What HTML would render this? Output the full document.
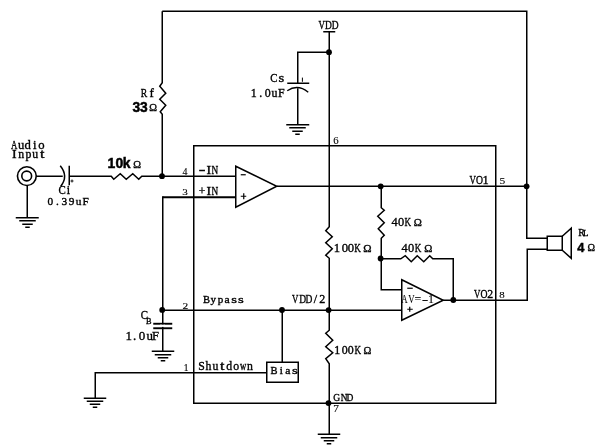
<!DOCTYPE html>
<html><head><meta charset="utf-8"><style>
html,body{margin:0;padding:0;background:#fff;width:600px;height:448px;overflow:hidden}
svg{display:block;will-change:transform}
</style></head><body>
<svg width="600" height="448" viewBox="0 0 600 448">
<rect width="600" height="448" fill="#fff"/>
<path d="M162.25,11.25H526.75V238.25H547.25" fill="none" stroke="#000" stroke-width="1.5"/>
<path d="M162.25,11.25V82.75L159.75,86.25L165.75,93.25L159.75,99.25L165.75,105.25L160.25,111.75L162.25,114.25V176.25" fill="none" stroke="#000" stroke-width="1.5"/>
<circle cx="26.85" cy="176.1" r="9.4" fill="none" stroke="#000" stroke-width="1.6"/>
<circle cx="26.7" cy="176.0" r="4.9" fill="none" stroke="#000" stroke-width="1.6"/>
<path d="M36.25,176.25H62.75" fill="none" stroke="#000" stroke-width="1.5"/>
<path d="M27.25,185.75V217.75" fill="none" stroke="#000" stroke-width="1.5"/>
<path d="M15.75,217.75H38.75" fill="none" stroke="#000" stroke-width="1.5"/>
<path d="M19.25,220.75H35.75" fill="none" stroke="#000" stroke-width="1.5"/>
<path d="M22.25,224.25H32.75" fill="none" stroke="#000" stroke-width="1.5"/>
<path d="M25.25,227.25H29.75" fill="none" stroke="#000" stroke-width="1.5"/>
<path d="M60.25,165.75Q68.75,176.25 60.75,186.25" fill="none" stroke="#000" stroke-width="1.5"/>
<path d="M69.25,165.75V185.25" fill="none" stroke="#000" stroke-width="1.5"/>
<path d="M69.25,176.25H111.25L113.75,179.25L120.25,173.75L126.25,179.25L132.75,173.75L138.75,179.25L141.75,176.25H235.75" fill="none" stroke="#000" stroke-width="1.5"/>
<circle cx="162" cy="176.2" r="2.9" fill="#000"/>
<path d="M162.75,197.25H235.75" fill="none" stroke="#000" stroke-width="2.2"/>
<path d="M162.75,196.25V351.25" fill="none" stroke="#000" stroke-width="1.5"/>
<circle cx="162.2" cy="309.9" r="2.9" fill="#000"/>
<path d="M162.25,310.25H401.75" fill="none" stroke="#000" stroke-width="1.5"/>
<path d="M153.25,323.75H172.25" fill="none" stroke="#000" stroke-width="1.9"/>
<path d="M153.25,328.25H172.25" fill="none" stroke="#000" stroke-width="1.9"/>
<rect x="160" y="324.7" width="5" height="2.2" fill="#fff"/>
<path d="M151.75,351.25H174.25" fill="none" stroke="#000" stroke-width="1.5"/>
<path d="M154.75,354.75H171.25" fill="none" stroke="#000" stroke-width="1.5"/>
<path d="M157.75,357.75H168.25" fill="none" stroke="#000" stroke-width="1.5"/>
<path d="M160.75,360.75H165.25" fill="none" stroke="#000" stroke-width="1.5"/>
<path d="M95.25,398.25V372.75H266.75" fill="none" stroke="#000" stroke-width="1.5"/>
<path d="M83.75,398.25H106.25" fill="none" stroke="#000" stroke-width="1.5"/>
<path d="M86.75,401.25H103.25" fill="none" stroke="#000" stroke-width="1.5"/>
<path d="M89.75,404.25H100.25" fill="none" stroke="#000" stroke-width="1.5"/>
<path d="M92.75,407.25H97.25" fill="none" stroke="#000" stroke-width="1.5"/>
<path d="M266.75,362.25H298.25V382.25H266.75Z" fill="none" stroke="#000" stroke-width="1.5"/>
<path d="M282.25,310.25V362.25" fill="none" stroke="#000" stroke-width="1.5"/>
<circle cx="282" cy="310" r="2.9" fill="#000"/>
<path d="M323.25,31.75H335.25" fill="none" stroke="#000" stroke-width="1.5"/>
<path d="M329.25,31.75V226.75L325.75,230.75L332.25,236.75L325.75,242.75L332.25,248.75L325.75,255.25L329.25,258.25V330.25L325.75,333.25L332.75,340.25L325.75,346.75L332.75,352.75L325.75,358.75L329.25,363.75V434.25" fill="none" stroke="#000" stroke-width="1.5"/>
<circle cx="329" cy="52.2" r="2.9" fill="#000"/>
<circle cx="328.6" cy="310.1" r="2.9" fill="#000"/>
<circle cx="328.5" cy="403.1" r="2.9" fill="#000"/>
<path d="M317.75,434.25H340.25" fill="none" stroke="#000" stroke-width="1.5"/>
<path d="M320.75,437.75H337.25" fill="none" stroke="#000" stroke-width="1.5"/>
<path d="M323.75,440.75H334.25" fill="none" stroke="#000" stroke-width="1.5"/>
<path d="M326.75,443.75H331.25" fill="none" stroke="#000" stroke-width="1.5"/>
<path d="M329.25,52.25H297.75V83.25" fill="none" stroke="#000" stroke-width="1.5"/>
<path d="M287.25,83.25H309.25" fill="none" stroke="#000" stroke-width="1.5"/>
<path d="M287.25,90.75Q297.75,83.75 308.25,92.25" fill="none" stroke="#000" stroke-width="1.4"/>
<path d="M297.75,88.25V124.75" fill="none" stroke="#000" stroke-width="1.5"/>
<path d="M286.25,124.75H309.25" fill="none" stroke="#000" stroke-width="1.5"/>
<path d="M289.25,127.75H305.75" fill="none" stroke="#000" stroke-width="1.5"/>
<path d="M292.25,131.25H302.75" fill="none" stroke="#000" stroke-width="1.5"/>
<path d="M295.25,134.25H299.75" fill="none" stroke="#000" stroke-width="1.5"/>
<path d="M193.75,145.75H495.75V403.25H193.75Z" fill="none" stroke="#000" stroke-width="1.5"/>
<path d="M235.75,166.25L276.75,186.25L235.75,207.25Z" fill="none" stroke="#000" stroke-width="1.5"/>
<path d="M276.75,186.25H526.75" fill="none" stroke="#000" stroke-width="1.5"/>
<circle cx="380.7" cy="186.3" r="2.9" fill="#000"/>
<circle cx="526.6" cy="186.3" r="2.9" fill="#000"/>
<path d="M381.25,186.25V207.75L384.25,210.25L377.75,216.25L384.25,222.75L378.25,228.75L384.25,235.25L381.25,238.25V289.75H401.75" fill="none" stroke="#000" stroke-width="1.5"/>
<circle cx="380.6" cy="258.5" r="2.9" fill="#000"/>
<path d="M381.25,258.75H400.75L405.25,255.75L411.25,261.75L417.25,255.75L423.75,261.75L429.75,255.75L432.75,258.75H453.25V300.25" fill="none" stroke="#000" stroke-width="1.5"/>
<circle cx="453.3" cy="300" r="2.9" fill="#000"/>
<path d="M401.75,279.75L443.25,300.25L401.75,320.25Z" fill="none" stroke="#000" stroke-width="1.5"/>
<path d="M443.25,300.25H527.25V249.25H547.25" fill="none" stroke="#000" stroke-width="1.5"/>
<path d="M547.25,236.25H562.25V250.25H547.25Z" fill="none" stroke="#000" stroke-width="1.5"/>
<path d="M562.25,236.25L571.25,228.25V258.25L562.25,250.25" fill="none" stroke="#000" stroke-width="1.5"/>
<path d="M240.75,174.75H245.75" fill="none" stroke="#000" stroke-width="1.2"/>
<path d="M240.75,196.25H246.25M243.75,193.25V199.25" fill="none" stroke="#000" stroke-width="1.2"/>
<path d="M407.25,288.25H412.75" fill="none" stroke="#000" stroke-width="1.2"/>
<path d="M407.25,309.25H412.75M409.75,306.75V311.75" fill="none" stroke="#000" stroke-width="1.2"/>
<path d="M302.4,77.6V81.8" stroke="#000" stroke-width="1"/>
<path d="M72,179.5V182.5M70.5,181H73.5" stroke="#000" stroke-width="0.9"/>
<text transform="translate(321.70,29.40) scale(0.715,1)" x="-4.47" y="0" font-family="Liberation Serif" font-size="12.39" font-weight="normal" fill="#000" stroke="#000" stroke-width="0.35">V</text>
<text transform="translate(328.40,29.40) scale(0.766,1)" x="-4.40" y="0" font-family="Liberation Serif" font-size="12.39" font-weight="normal" fill="#000" stroke="#000" stroke-width="0.35">D</text>
<text transform="translate(335.00,29.40) scale(0.766,1)" x="-4.40" y="0" font-family="Liberation Serif" font-size="12.39" font-weight="normal" fill="#000" stroke="#000" stroke-width="0.35">D</text>
<text transform="translate(144.00,96.80) scale(0.741,1)" x="-4.56" y="0" font-family="Liberation Serif" font-size="13.14" font-weight="normal" fill="#000" stroke="#000" stroke-width="0.35">R</text>
<text transform="translate(151.80,96.80) scale(1.000,1)" x="-2.39" y="0" font-family="Liberation Serif" font-size="13.14" font-weight="normal" fill="#000" stroke="#000" stroke-width="0.35">f</text>
<text transform="translate(273.70,81.90) scale(0.910,1)" x="-3.90" y="0" font-family="Liberation Serif" font-size="11.93" font-weight="normal" fill="#000" stroke="#000" stroke-width="0.35">C</text>
<text transform="translate(281.50,81.90) scale(1.235,1)" x="-2.35" y="0" font-family="Liberation Serif" font-size="11.93" font-weight="normal" fill="#000" stroke="#000" stroke-width="0.35">s</text>
<text transform="translate(254.00,96.90) scale(1.000,1)" x="-3.15" y="0" font-family="Liberation Serif" font-size="11.93" font-weight="normal" fill="#000" stroke="#000" stroke-width="0.35">1</text>
<text transform="translate(260.80,96.90) scale(1.000,1)" x="-1.49" y="0" font-family="Liberation Serif" font-size="11.93" font-weight="normal" fill="#000" stroke="#000" stroke-width="0.35">.</text>
<text transform="translate(267.60,96.90) scale(1.000,1)" x="-2.98" y="0" font-family="Liberation Serif" font-size="11.93" font-weight="normal" fill="#000" stroke="#000" stroke-width="0.35">0</text>
<text transform="translate(274.40,96.90) scale(1.000,1)" x="-2.96" y="0" font-family="Liberation Serif" font-size="11.93" font-weight="normal" fill="#000" stroke="#000" stroke-width="0.35">u</text>
<text transform="translate(281.20,96.90) scale(1.000,1)" x="-3.27" y="0" font-family="Liberation Serif" font-size="11.93" font-weight="normal" fill="#000" stroke="#000" stroke-width="0.35">F</text>
<text transform="translate(14.20,148.50) scale(0.693,1)" x="-4.60" y="0" font-family="Liberation Serif" font-size="12.69" font-weight="normal" fill="#000" stroke="#000" stroke-width="0.35">A</text>
<text transform="translate(21.03,148.50) scale(1.000,1)" x="-3.15" y="0" font-family="Liberation Serif" font-size="12.69" font-weight="normal" fill="#000" stroke="#000" stroke-width="0.35">u</text>
<text transform="translate(27.86,148.50) scale(1.000,1)" x="-3.32" y="0" font-family="Liberation Serif" font-size="12.69" font-weight="normal" fill="#000" stroke="#000" stroke-width="0.35">d</text>
<text transform="translate(34.69,148.50) scale(1.000,1)" x="-1.78" y="0" font-family="Liberation Serif" font-size="12.69" font-weight="normal" fill="#000" stroke="#000" stroke-width="0.35">i</text>
<text transform="translate(41.52,148.50) scale(1.000,1)" x="-3.17" y="0" font-family="Liberation Serif" font-size="12.69" font-weight="normal" fill="#000" stroke="#000" stroke-width="0.35">o</text>
<text transform="translate(14.20,158.40) scale(1.167,1)" x="-1.97" y="0" font-family="Liberation Serif" font-size="11.78" font-weight="normal" fill="#000" stroke="#000" stroke-width="0.35">I</text>
<text transform="translate(21.20,158.40) scale(1.000,1)" x="-2.99" y="0" font-family="Liberation Serif" font-size="11.78" font-weight="normal" fill="#000" stroke="#000" stroke-width="0.35">n</text>
<text transform="translate(28.20,158.40) scale(1.000,1)" x="-2.81" y="0" font-family="Liberation Serif" font-size="11.78" font-weight="normal" fill="#000" stroke="#000" stroke-width="0.35">p</text>
<text transform="translate(35.20,158.40) scale(1.000,1)" x="-2.92" y="0" font-family="Liberation Serif" font-size="11.78" font-weight="normal" fill="#000" stroke="#000" stroke-width="0.35">u</text>
<text transform="translate(42.20,158.40) scale(1.359,1)" x="-1.66" y="0" font-family="Liberation Serif" font-size="11.78" font-weight="normal" fill="#000" stroke="#000" stroke-width="0.35">t</text>
<text transform="translate(62.10,194.40) scale(0.910,1)" x="-3.90" y="0" font-family="Liberation Serif" font-size="11.93" font-weight="normal" fill="#000" stroke="#000" stroke-width="0.35">C</text>
<text transform="translate(68.50,194.40) scale(1.000,1)" x="-1.67" y="0" font-family="Liberation Serif" font-size="11.93" font-weight="normal" fill="#000" stroke="#000" stroke-width="0.35">i</text>
<text transform="translate(50.25,204.50) scale(1.000,1)" x="-2.83" y="0" font-family="Liberation Serif" font-size="11.33" font-weight="normal" fill="#000" stroke="#000" stroke-width="0.35">0</text>
<text transform="translate(57.30,204.50) scale(1.000,1)" x="-1.42" y="0" font-family="Liberation Serif" font-size="11.33" font-weight="normal" fill="#000" stroke="#000" stroke-width="0.35">.</text>
<text transform="translate(64.35,204.50) scale(1.000,1)" x="-2.88" y="0" font-family="Liberation Serif" font-size="11.33" font-weight="normal" fill="#000" stroke="#000" stroke-width="0.35">3</text>
<text transform="translate(71.40,204.50) scale(1.000,1)" x="-2.78" y="0" font-family="Liberation Serif" font-size="11.33" font-weight="normal" fill="#000" stroke="#000" stroke-width="0.35">9</text>
<text transform="translate(78.45,204.50) scale(1.000,1)" x="-2.81" y="0" font-family="Liberation Serif" font-size="11.33" font-weight="normal" fill="#000" stroke="#000" stroke-width="0.35">u</text>
<text transform="translate(85.50,204.50) scale(1.000,1)" x="-3.11" y="0" font-family="Liberation Serif" font-size="11.33" font-weight="normal" fill="#000" stroke="#000" stroke-width="0.35">F</text>
<text transform="translate(202.00,173.60) scale(1.744,1)" x="-1.92" y="0" font-family="Liberation Serif" font-size="11.48" font-weight="normal" fill="#000" stroke="#000" stroke-width="0.35">-</text>
<text transform="translate(208.80,173.60) scale(1.198,1)" x="-1.92" y="0" font-family="Liberation Serif" font-size="11.48" font-weight="normal" fill="#000" stroke="#000" stroke-width="0.35">I</text>
<text transform="translate(214.90,173.60) scale(0.806,1)" x="-4.18" y="0" font-family="Liberation Serif" font-size="11.48" font-weight="normal" fill="#000" stroke="#000" stroke-width="0.35">N</text>
<text transform="translate(202.00,194.50) scale(1.000,1)" x="-3.24" y="0" font-family="Liberation Serif" font-size="11.48" font-weight="normal" fill="#000" stroke="#000" stroke-width="0.35">+</text>
<text transform="translate(208.80,194.50) scale(1.198,1)" x="-1.92" y="0" font-family="Liberation Serif" font-size="11.48" font-weight="normal" fill="#000" stroke="#000" stroke-width="0.35">I</text>
<text transform="translate(214.90,194.50) scale(0.806,1)" x="-4.18" y="0" font-family="Liberation Serif" font-size="11.48" font-weight="normal" fill="#000" stroke="#000" stroke-width="0.35">N</text>
<text transform="translate(337.10,251.90) scale(1.000,1)" x="-3.35" y="0" font-family="Liberation Serif" font-size="12.69" font-weight="normal" fill="#000" stroke="#000" stroke-width="0.35">1</text>
<text transform="translate(344.80,251.90) scale(1.000,1)" x="-3.17" y="0" font-family="Liberation Serif" font-size="12.69" font-weight="normal" fill="#000" stroke="#000" stroke-width="0.35">0</text>
<text transform="translate(350.90,251.90) scale(1.000,1)" x="-3.17" y="0" font-family="Liberation Serif" font-size="12.69" font-weight="normal" fill="#000" stroke="#000" stroke-width="0.35">0</text>
<text transform="translate(357.60,251.90) scale(0.715,1)" x="-4.70" y="0" font-family="Liberation Serif" font-size="12.69" font-weight="normal" fill="#000" stroke="#000" stroke-width="0.35">K</text>
<text transform="translate(367.50,251.90) scale(1.000,1)" x="-4.15" y="0" font-family="Liberation Serif" font-size="11.17" font-weight="normal" fill="#000" stroke="#000" stroke-width="0.35">Ω</text>
<text transform="translate(394.50,225.90) scale(1.000,1)" x="-3.12" y="0" font-family="Liberation Serif" font-size="12.39" font-weight="normal" fill="#000" stroke="#000" stroke-width="0.35">4</text>
<text transform="translate(401.10,225.90) scale(1.000,1)" x="-3.10" y="0" font-family="Liberation Serif" font-size="12.39" font-weight="normal" fill="#000" stroke="#000" stroke-width="0.35">0</text>
<text transform="translate(407.90,225.90) scale(0.733,1)" x="-4.59" y="0" font-family="Liberation Serif" font-size="12.39" font-weight="normal" fill="#000" stroke="#000" stroke-width="0.35">K</text>
<text transform="translate(417.80,225.90) scale(1.000,1)" x="-4.05" y="0" font-family="Liberation Serif" font-size="10.90" font-weight="normal" fill="#000" stroke="#000" stroke-width="0.35">Ω</text>
<text transform="translate(404.60,251.60) scale(1.000,1)" x="-3.12" y="0" font-family="Liberation Serif" font-size="12.39" font-weight="normal" fill="#000" stroke="#000" stroke-width="0.35">4</text>
<text transform="translate(411.20,251.60) scale(1.000,1)" x="-3.10" y="0" font-family="Liberation Serif" font-size="12.39" font-weight="normal" fill="#000" stroke="#000" stroke-width="0.35">0</text>
<text transform="translate(418.00,251.60) scale(0.733,1)" x="-4.59" y="0" font-family="Liberation Serif" font-size="12.39" font-weight="normal" fill="#000" stroke="#000" stroke-width="0.35">K</text>
<text transform="translate(428.30,251.60) scale(1.000,1)" x="-4.05" y="0" font-family="Liberation Serif" font-size="10.90" font-weight="normal" fill="#000" stroke="#000" stroke-width="0.35">Ω</text>
<text transform="translate(472.70,184.40) scale(0.715,1)" x="-4.47" y="0" font-family="Liberation Serif" font-size="12.39" font-weight="normal" fill="#000" stroke="#000" stroke-width="0.35">V</text>
<text transform="translate(479.40,184.40) scale(0.782,1)" x="-4.47" y="0" font-family="Liberation Serif" font-size="12.39" font-weight="normal" fill="#000" stroke="#000" stroke-width="0.35">O</text>
<text transform="translate(485.80,184.40) scale(1.000,1)" x="-3.27" y="0" font-family="Liberation Serif" font-size="12.39" font-weight="normal" fill="#000" stroke="#000" stroke-width="0.35">1</text>
<text transform="translate(477.30,297.70) scale(0.752,1)" x="-4.25" y="0" font-family="Liberation Serif" font-size="11.78" font-weight="normal" fill="#000" stroke="#000" stroke-width="0.35">V</text>
<text transform="translate(484.00,297.70) scale(0.822,1)" x="-4.25" y="0" font-family="Liberation Serif" font-size="11.78" font-weight="normal" fill="#000" stroke="#000" stroke-width="0.35">O</text>
<text transform="translate(490.20,297.70) scale(1.000,1)" x="-2.88" y="0" font-family="Liberation Serif" font-size="11.78" font-weight="normal" fill="#000" stroke="#000" stroke-width="0.35">2</text>
<text transform="translate(404.50,302.70) scale(0.737,1)" x="-4.32" y="0" font-family="Liberation Serif" font-size="11.93" font-weight="normal" fill="#000" stroke="#000" stroke-width="0.1">A</text>
<text transform="translate(411.50,302.70) scale(0.743,1)" x="-4.31" y="0" font-family="Liberation Serif" font-size="11.93" font-weight="normal" fill="#000" stroke="#000" stroke-width="0.1">V</text>
<text transform="translate(417.80,302.70) scale(1.000,1)" x="-3.37" y="0" font-family="Liberation Serif" font-size="11.93" font-weight="normal" fill="#000" stroke="#000" stroke-width="0.1">=</text>
<text transform="translate(425.00,302.70) scale(1.677,1)" x="-1.99" y="0" font-family="Liberation Serif" font-size="11.93" font-weight="normal" fill="#000" stroke="#000" stroke-width="0.1">-</text>
<text transform="translate(431.20,302.70) scale(1.000,1)" x="-3.15" y="0" font-family="Liberation Serif" font-size="11.93" font-weight="normal" fill="#000" stroke="#000" stroke-width="0.1">1</text>
<text transform="translate(144.30,319.00) scale(0.866,1)" x="-4.09" y="0" font-family="Liberation Serif" font-size="12.54" font-weight="normal" fill="#000" stroke="#000" stroke-width="0.35">C</text>
<text transform="translate(148.70,324.10) scale(1.000,1)" x="-2.69" y="0" font-family="Liberation Serif" font-size="8.31" font-weight="normal" fill="#000" stroke="#000" stroke-width="0.35">B</text>
<text transform="translate(128.80,339.70) scale(1.000,1)" x="-3.43" y="0" font-family="Liberation Serif" font-size="12.99" font-weight="normal" fill="#000" stroke="#000" stroke-width="0.35">1</text>
<text transform="translate(134.60,339.70) scale(1.000,1)" x="-1.62" y="0" font-family="Liberation Serif" font-size="12.99" font-weight="normal" fill="#000" stroke="#000" stroke-width="0.35">.</text>
<text transform="translate(142.10,339.70) scale(1.000,1)" x="-3.25" y="0" font-family="Liberation Serif" font-size="12.99" font-weight="normal" fill="#000" stroke="#000" stroke-width="0.35">0</text>
<text transform="translate(149.60,339.70) scale(1.000,1)" x="-3.22" y="0" font-family="Liberation Serif" font-size="12.99" font-weight="normal" fill="#000" stroke="#000" stroke-width="0.35">u</text>
<text transform="translate(155.40,339.70) scale(0.972,1)" x="-3.56" y="0" font-family="Liberation Serif" font-size="12.99" font-weight="normal" fill="#000" stroke="#000" stroke-width="0.35">F</text>
<text transform="translate(206.50,302.50) scale(0.954,1)" x="-3.57" y="0" font-family="Liberation Serif" font-size="11.03" font-weight="normal" fill="#000" stroke="#000" stroke-width="0.35">B</text>
<text transform="translate(213.40,302.50) scale(1.000,1)" x="-2.80" y="0" font-family="Liberation Serif" font-size="11.03" font-weight="normal" fill="#000" stroke="#000" stroke-width="0.35">y</text>
<text transform="translate(220.30,302.50) scale(1.000,1)" x="-2.63" y="0" font-family="Liberation Serif" font-size="11.03" font-weight="normal" fill="#000" stroke="#000" stroke-width="0.35">p</text>
<text transform="translate(227.20,302.50) scale(1.056,1)" x="-2.57" y="0" font-family="Liberation Serif" font-size="11.03" font-weight="normal" fill="#000" stroke="#000" stroke-width="0.35">a</text>
<text transform="translate(234.10,302.50) scale(1.337,1)" x="-2.17" y="0" font-family="Liberation Serif" font-size="11.03" font-weight="normal" fill="#000" stroke="#000" stroke-width="0.35">s</text>
<text transform="translate(241.00,302.50) scale(1.337,1)" x="-2.17" y="0" font-family="Liberation Serif" font-size="11.03" font-weight="normal" fill="#000" stroke="#000" stroke-width="0.35">s</text>
<text transform="translate(295.30,302.95) scale(0.733,1)" x="-4.36" y="0" font-family="Liberation Serif" font-size="12.08" font-weight="normal" fill="#000" stroke="#000" stroke-width="0.35">V</text>
<text transform="translate(302.70,302.95) scale(0.785,1)" x="-4.30" y="0" font-family="Liberation Serif" font-size="12.08" font-weight="normal" fill="#000" stroke="#000" stroke-width="0.35">D</text>
<text transform="translate(308.80,302.95) scale(0.785,1)" x="-4.30" y="0" font-family="Liberation Serif" font-size="12.08" font-weight="normal" fill="#000" stroke="#000" stroke-width="0.35">D</text>
<text transform="translate(315.30,302.95) scale(1.000,1)" x="-1.68" y="0" font-family="Liberation Serif" font-size="12.08" font-weight="normal" fill="#000" stroke="#000" stroke-width="0.35">/</text>
<text transform="translate(322.20,302.95) scale(1.000,1)" x="-2.95" y="0" font-family="Liberation Serif" font-size="12.08" font-weight="normal" fill="#000" stroke="#000" stroke-width="0.35">2</text>
<text transform="translate(201.50,369.80) scale(1.000,1)" x="-3.31" y="0" font-family="Liberation Serif" font-size="11.78" font-weight="normal" fill="#000" stroke="#000" stroke-width="0.35">S</text>
<text transform="translate(208.43,369.80) scale(1.000,1)" x="-2.93" y="0" font-family="Liberation Serif" font-size="11.78" font-weight="normal" fill="#000" stroke="#000" stroke-width="0.35">h</text>
<text transform="translate(215.36,369.80) scale(1.000,1)" x="-2.92" y="0" font-family="Liberation Serif" font-size="11.78" font-weight="normal" fill="#000" stroke="#000" stroke-width="0.35">u</text>
<text transform="translate(222.29,369.80) scale(1.359,1)" x="-1.66" y="0" font-family="Liberation Serif" font-size="11.78" font-weight="normal" fill="#000" stroke="#000" stroke-width="0.35">t</text>
<text transform="translate(229.22,369.80) scale(1.000,1)" x="-3.09" y="0" font-family="Liberation Serif" font-size="11.78" font-weight="normal" fill="#000" stroke="#000" stroke-width="0.35">d</text>
<text transform="translate(236.15,369.80) scale(1.000,1)" x="-2.95" y="0" font-family="Liberation Serif" font-size="11.78" font-weight="normal" fill="#000" stroke="#000" stroke-width="0.35">o</text>
<text transform="translate(243.08,369.80) scale(0.734,1)" x="-4.23" y="0" font-family="Liberation Serif" font-size="11.78" font-weight="normal" fill="#000" stroke="#000" stroke-width="0.35">w</text>
<text transform="translate(250.01,369.80) scale(1.000,1)" x="-2.99" y="0" font-family="Liberation Serif" font-size="11.78" font-weight="normal" fill="#000" stroke="#000" stroke-width="0.35">n</text>
<text transform="translate(274.00,374.30) scale(0.954,1)" x="-3.57" y="0" font-family="Liberation Serif" font-size="11.03" font-weight="normal" fill="#000" stroke="#000" stroke-width="0.35">B</text>
<text transform="translate(281.20,374.30) scale(1.000,1)" x="-1.54" y="0" font-family="Liberation Serif" font-size="11.03" font-weight="normal" fill="#000" stroke="#000" stroke-width="0.35">i</text>
<text transform="translate(288.00,374.30) scale(1.056,1)" x="-2.57" y="0" font-family="Liberation Serif" font-size="11.03" font-weight="normal" fill="#000" stroke="#000" stroke-width="0.35">a</text>
<text transform="translate(294.80,374.30) scale(1.337,1)" x="-2.17" y="0" font-family="Liberation Serif" font-size="11.03" font-weight="normal" fill="#000" stroke="#000" stroke-width="0.35">s</text>
<text transform="translate(337.30,354.25) scale(1.000,1)" x="-3.15" y="0" font-family="Liberation Serif" font-size="11.93" font-weight="normal" fill="#000" stroke="#000" stroke-width="0.35">1</text>
<text transform="translate(344.80,354.25) scale(1.000,1)" x="-2.98" y="0" font-family="Liberation Serif" font-size="11.93" font-weight="normal" fill="#000" stroke="#000" stroke-width="0.35">0</text>
<text transform="translate(350.80,354.25) scale(1.000,1)" x="-2.98" y="0" font-family="Liberation Serif" font-size="11.93" font-weight="normal" fill="#000" stroke="#000" stroke-width="0.35">0</text>
<text transform="translate(357.80,354.25) scale(0.761,1)" x="-4.42" y="0" font-family="Liberation Serif" font-size="11.93" font-weight="normal" fill="#000" stroke="#000" stroke-width="0.35">K</text>
<text transform="translate(367.50,354.25) scale(1.000,1)" x="-3.90" y="0" font-family="Liberation Serif" font-size="10.50" font-weight="normal" fill="#000" stroke="#000" stroke-width="0.35">Ω</text>
<text transform="translate(336.70,400.60) scale(0.902,1)" x="-3.87" y="0" font-family="Liberation Serif" font-size="10.57" font-weight="normal" fill="#000" stroke="#000" stroke-width="0.35">G</text>
<text transform="translate(344.00,400.60) scale(0.875,1)" x="-3.85" y="0" font-family="Liberation Serif" font-size="10.57" font-weight="normal" fill="#000" stroke="#000" stroke-width="0.35">N</text>
<text transform="translate(349.80,400.60) scale(0.897,1)" x="-3.76" y="0" font-family="Liberation Serif" font-size="10.57" font-weight="normal" fill="#000" stroke="#000" stroke-width="0.35">D</text>
<text transform="translate(581.60,235.70) scale(0.921,1)" x="-3.67" y="0" font-family="Liberation Serif" font-size="10.57" font-weight="normal" fill="#000" stroke="#000" stroke-width="0.35">R</text>
<text transform="translate(585.60,236.40) scale(1.101,1)" x="-2.32" y="0" font-family="Liberation Serif" font-size="8.01" font-weight="normal" fill="#000" stroke="#000" stroke-width="0.35">L</text>
<text transform="translate(185.00,174.80) scale(1.040,1)" x="-2.40" y="0" font-family="Liberation Serif" font-size="9.52" font-weight="normal" fill="#000" stroke="#000" stroke-width="0.1">4</text>
<text transform="translate(185.00,195.10) scale(1.208,1)" x="-2.34" y="0" font-family="Liberation Serif" font-size="9.21" font-weight="normal" fill="#000" stroke="#000" stroke-width="0.1">3</text>
<text transform="translate(336.00,143.70) scale(1.150,1)" x="-2.40" y="0" font-family="Liberation Serif" font-size="9.37" font-weight="normal" fill="#000" stroke="#000" stroke-width="0.1">6</text>
<text transform="translate(502.50,184.40) scale(1.426,1)" x="-2.08" y="0" font-family="Liberation Serif" font-size="8.01" font-weight="normal" fill="#000" stroke="#000" stroke-width="0.1">5</text>
<text transform="translate(502.00,297.70) scale(1.261,1)" x="-2.15" y="0" font-family="Liberation Serif" font-size="8.61" font-weight="normal" fill="#000" stroke="#000" stroke-width="0.1">8</text>
<text transform="translate(185.20,308.80) scale(1.550,1)" x="-1.81" y="0" font-family="Liberation Serif" font-size="7.40" font-weight="normal" fill="#000" stroke="#000" stroke-width="0.1">2</text>
<text transform="translate(186.20,371.20) scale(1.000,1)" x="-2.71" y="0" font-family="Liberation Serif" font-size="10.27" font-weight="normal" fill="#000" stroke="#000" stroke-width="0.1">1</text>
<text transform="translate(336.30,411.50) scale(1.212,1)" x="-2.52" y="0" font-family="Liberation Serif" font-size="9.37" font-weight="normal" fill="#000" stroke="#000" stroke-width="0.1">7</text>
<text transform="translate(136.25,112.00) scale(1.000,1)" x="-3.75" y="0" font-family="Liberation Sans" font-size="13.83" font-weight="bold" fill="#000" stroke="#000" stroke-width="0.45">3</text>
<text transform="translate(143.80,112.00) scale(1.000,1)" x="-3.75" y="0" font-family="Liberation Sans" font-size="13.83" font-weight="bold" fill="#000" stroke="#000" stroke-width="0.45">3</text>
<text transform="translate(111.50,167.50) scale(1.000,1)" x="-4.13" y="0" font-family="Liberation Sans" font-size="13.97" font-weight="bold" fill="#000" stroke="#000" stroke-width="0.45">1</text>
<text transform="translate(119.30,167.50) scale(1.000,1)" x="-3.87" y="0" font-family="Liberation Sans" font-size="13.97" font-weight="bold" fill="#000" stroke="#000" stroke-width="0.45">0</text>
<text transform="translate(127.00,167.50) scale(1.000,1)" x="-4.38" y="0" font-family="Liberation Sans" font-size="13.97" font-weight="bold" fill="#000" stroke="#000" stroke-width="0.45">k</text>
<text transform="translate(580.90,251.80) scale(1.000,1)" x="-3.64" y="0" font-family="Liberation Sans" font-size="12.85" font-weight="bold" fill="#000" stroke="#000" stroke-width="0.45">4</text>
<text transform="translate(153.10,111.40) scale(1.000,1)" x="-3.87" y="0" font-family="Liberation Serif" font-size="10.42" font-weight="normal" fill="#000" stroke="#000" stroke-width="0.35">Ω</text>
<text transform="translate(137.00,167.80) scale(1.000,1)" x="-3.87" y="0" font-family="Liberation Serif" font-size="10.42" font-weight="normal" fill="#000" stroke="#000" stroke-width="0.35">Ω</text>
<text transform="translate(591.30,250.90) scale(1.000,1)" x="-3.76" y="0" font-family="Liberation Serif" font-size="10.12" font-weight="normal" fill="#000" stroke="#000" stroke-width="0.35">Ω</text>
</svg>
</body></html>
